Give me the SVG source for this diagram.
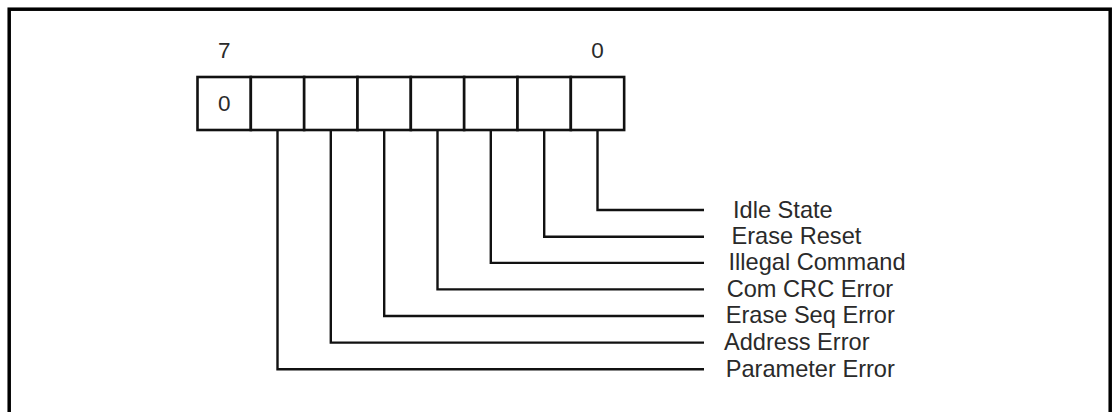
<svg xmlns="http://www.w3.org/2000/svg" width="1112" height="412" viewBox="0 0 1112 412">
  <style>
    .frame { fill: none; stroke: #000; stroke-width: 3.5; }
    .cell { fill: #fff; stroke: #111; stroke-width: 2.6; }
    .wire { fill: none; stroke: #111; stroke-width: 2.4; }
    .txt { font-family: "Liberation Sans", Arial, sans-serif; font-size: 23.6px; fill: #2a2a2a; }
    .num { font-family: "Liberation Sans", Arial, sans-serif; font-size: 22.5px; fill: #2a2a2a; text-anchor: middle; }
  </style>
  <rect width="1112" height="412" fill="#fff"/>
  <!-- outer frame, open at the bottom -->
  <rect class="frame" x="9.2" y="9.2" width="1101" height="430"/>

  <!-- bit numbering -->
  <g id="bit-labels">
    <text class="num" x="224.2" y="58.3">7</text>
    <text class="num" x="597.5" y="58.3">0</text>
  </g>

  <!-- 8-bit response register -->
  <g id="register">
    <rect class="cell" x="197.5" y="77" width="53.33" height="53"/>
    <rect class="cell" x="250.83" y="77" width="53.33" height="53"/>
    <rect class="cell" x="304.17" y="77" width="53.33" height="53"/>
    <rect class="cell" x="357.5" y="77" width="53.33" height="53"/>
    <rect class="cell" x="410.83" y="77" width="53.33" height="53"/>
    <rect class="cell" x="464.17" y="77" width="53.33" height="53"/>
    <rect class="cell" x="517.5" y="77" width="53.33" height="53"/>
    <rect class="cell" x="570.83" y="77" width="53.33" height="53"/>
    <text class="num" x="224.2" y="111">0</text>
  </g>

  <!-- leader lines from each bit to its label -->
  <g id="connectors">
    <path class="wire" d="M597.5 130 V210 H704"/>
    <path class="wire" d="M544.2 130 V236.7 H704"/>
    <path class="wire" d="M490.8 130 V262.9 H704"/>
    <path class="wire" d="M437.5 130 V289.4 H704"/>
    <path class="wire" d="M384.2 130 V316 H704"/>
    <path class="wire" d="M330.8 130 V342.6 H704"/>
    <path class="wire" d="M277.5 130 V369.2 H704"/>
  </g>

  <g id="label-idle-state"><text class="txt" x="733" y="217.5">Idle State</text></g>
  <g id="label-erase-reset"><text class="txt" x="731.5" y="244">Erase Reset</text></g>
  <g id="label-illegal-command"><text class="txt" x="728.5" y="270.2">Illegal Command</text></g>
  <g id="label-com-crc-error"><text class="txt" x="726.7" y="296.8">Com CRC Error</text></g>
  <g id="label-erase-seq-error"><text class="txt" x="725.7" y="323.3">Erase Seq Error</text></g>
  <g id="label-address-error"><text class="txt" x="724" y="349.9">Address Error</text></g>
  <g id="label-parameter-error"><text class="txt" x="725.7" y="376.5">Parameter Error</text></g>
</svg>
